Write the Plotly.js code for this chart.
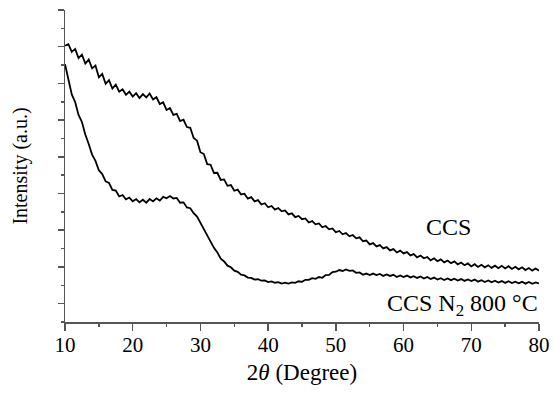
<!DOCTYPE html>
<html>
<head>
<meta charset="utf-8">
<script src="https://cdn.plot.ly/plotly-3.0.1.min.js"></script>
<style>html,body{margin:0;padding:0;background:#fff;}#chart{width:553px;height:393px;}</style>
</head>
<body>
<div id="chart"></div>
<script>
// 2θ sampling (degrees)
const twoTheta = [10,10.5,11,11.5,12,12.5,13,13.5,14,14.5,15,15.5,16,16.5,17,17.5,18,18.5,19,19.5,
20,20.5,21,21.5,22,22.5,23,23.5,24,24.5,25,25.5,26,26.5,27,27.5,28,28.5,29,29.5,
30,30.5,31,31.5,32,32.5,33,33.5,34,34.5,35,35.5,36,36.5,37,37.5,38,38.5,39,39.5,
40,40.5,41,41.5,42,42.5,43,43.5,44,44.5,45,45.5,46,46.5,47,47.5,48,48.5,49,49.5,
50,50.5,51,51.5,52,52.5,53,53.5,54,54.5,55,55.5,56,56.5,57,57.5,58,58.5,59,59.5,
60,60.5,61,61.5,62,62.5,63,63.5,64,64.5,65,65.5,66,66.5,67,67.5,68,68.5,69,69.5,
70,70.5,71,71.5,72,72.5,73,73.5,74,74.5,75,75.5,76,76.5,77,77.5,78,78.5,79,79.5,80];

// CCS (upper pattern), intensity in arbitrary units
const ccs = [15.05,15.14,14.72,14.88,14.38,14.57,14.08,14.30,13.82,13.97,13.33,13.52,12.98,13.18,12.72,12.93,12.55,12.68,12.38,12.55,
12.28,12.47,12.20,12.42,12.24,12.45,12.12,12.25,11.88,11.97,11.55,11.66,11.28,11.34,10.95,11.02,10.62,10.58,10.03,9.88,
9.25,9.15,8.60,8.57,8.12,8.13,7.74,7.77,7.42,7.46,7.15,7.21,6.95,6.99,6.72,6.80,6.57,6.64,6.40,6.47,
6.25,6.32,6.12,6.21,6.03,6.08,5.86,5.92,5.71,5.78,5.60,5.64,5.42,5.50,5.32,5.37,5.16,5.23,5.05,5.10,
4.89,4.96,4.78,4.85,4.67,4.74,4.56,4.61,4.40,4.44,4.23,4.30,4.12,4.19,4.01,4.08,3.90,3.97,3.79,3.89,
3.74,3.81,3.63,3.70,3.52,3.62,3.47,3.54,3.36,3.47,3.31,3.41,3.25,3.35,3.20,3.30,3.14,3.24,3.09,3.19,
3.03,3.15,3.00,3.12,2.98,3.09,2.95,3.07,2.93,3.06,2.92,3.04,2.89,3.01,2.87,2.98,2.83,2.94,2.80,2.91,2.80];

// CCS N2 800 °C (lower pattern)
const ccsN2 = [14.05,13.25,12.40,11.98,11.28,10.90,10.22,9.70,9.12,8.78,8.26,8.06,7.66,7.58,7.20,7.16,6.84,6.92,6.68,6.78,
6.58,6.70,6.52,6.66,6.50,6.70,6.57,6.74,6.62,6.82,6.74,6.86,6.73,6.76,6.50,6.52,6.24,6.20,5.93,5.74,
5.40,5.11,4.70,4.42,4.04,3.79,3.45,3.30,3.07,2.98,2.80,2.73,2.58,2.54,2.42,2.40,2.31,2.33,2.25,2.26,
2.17,2.21,2.14,2.17,2.09,2.14,2.09,2.16,2.13,2.22,2.19,2.30,2.30,2.39,2.35,2.45,2.41,2.56,2.57,2.72,
2.74,2.83,2.78,2.86,2.79,2.81,2.68,2.70,2.57,2.64,2.56,2.64,2.56,2.62,2.51,2.59,2.51,2.57,2.45,2.54,
2.45,2.53,2.43,2.50,2.40,2.48,2.37,2.45,2.34,2.42,2.31,2.39,2.29,2.37,2.28,2.36,2.26,2.34,2.24,2.32,
2.23,2.31,2.20,2.28,2.18,2.26,2.16,2.25,2.15,2.23,2.13,2.22,2.12,2.20,2.11,2.19,2.09,2.18,2.08,2.16,2.10];

const xTicks = [10,20,30,40,50,60,70,80];
const labelCCS = 'CCS';
const labelN2 = 'CCS N<sub>2</sub> 800 °C';

const serif = '"Liberation Serif", "Times New Roman", serif';
const axisGray = '#555555';

const traces = [
  {x: twoTheta, y: ccs, mode: 'lines', line: {color: '#000', width: 1.8}, name: labelCCS, showlegend: false},
  {x: twoTheta, y: ccsN2, mode: 'lines', line: {color: '#000', width: 1.8}, name: 'CCS N2 800 °C', showlegend: false}
];

const layout = {
  width: 553, height: 393,
  margin: {l: 65, r: 14, t: 10, b: 71},
  paper_bgcolor: '#fff', plot_bgcolor: '#fff',
  font: {family: serif, size: 22, color: '#000'},
  xaxis: {
    range: [10, 80], tickvals: xTicks, ticktext: xTicks.map(String),
    showline: true, linecolor: axisGray, linewidth: 1.5,
    ticks: 'outside', ticklen: 7, tickwidth: 1.5, tickcolor: axisGray,
    minor: {dtick: 5, tick0: 5, ticks: 'outside', ticklen: 3, tickwidth: 1.5, tickcolor: axisGray},
    showgrid: false, zeroline: false,
    ticklabelstandoff: -4,
    tickfont: {family: serif, size: 21, color: '#000'},
    title: {text: '2<i>θ</i> (Degree)', font: {family: serif, size: 23, color: '#000'}, standoff: 8}
  },
  yaxis: {
    range: [0, 17], tick0: 1, dtick: 2, showticklabels: false,
    showline: true, linecolor: axisGray, linewidth: 1.5,
    ticks: 'outside', ticklen: 6, tickwidth: 1.5, tickcolor: axisGray,
    minor: {dtick: 1, tick0: 0, ticks: 'outside', ticklen: 3, tickwidth: 1.5, tickcolor: axisGray},
    showgrid: false, zeroline: false,
    title: {text: 'Intensity (a.u.)', font: {family: serif, size: 20, color: '#000'}, standoff: 24}
  },
  annotations: [
    {x: 66.7, y: 5.17, xref: 'x', yref: 'y', text: labelCCS, showarrow: false, font: {family: serif, size: 24, color: '#000'}},
    {x: 80, y: 0.95, xref: 'x', yref: 'y', xanchor: 'right', xshift: 1, text: labelN2, showarrow: false, font: {family: serif, size: 24, color: '#000'}}
  ]
};

Plotly.newPlot('chart', traces, layout, {staticPlot: true, displayModeBar: false});
</script>
</body>
</html>
